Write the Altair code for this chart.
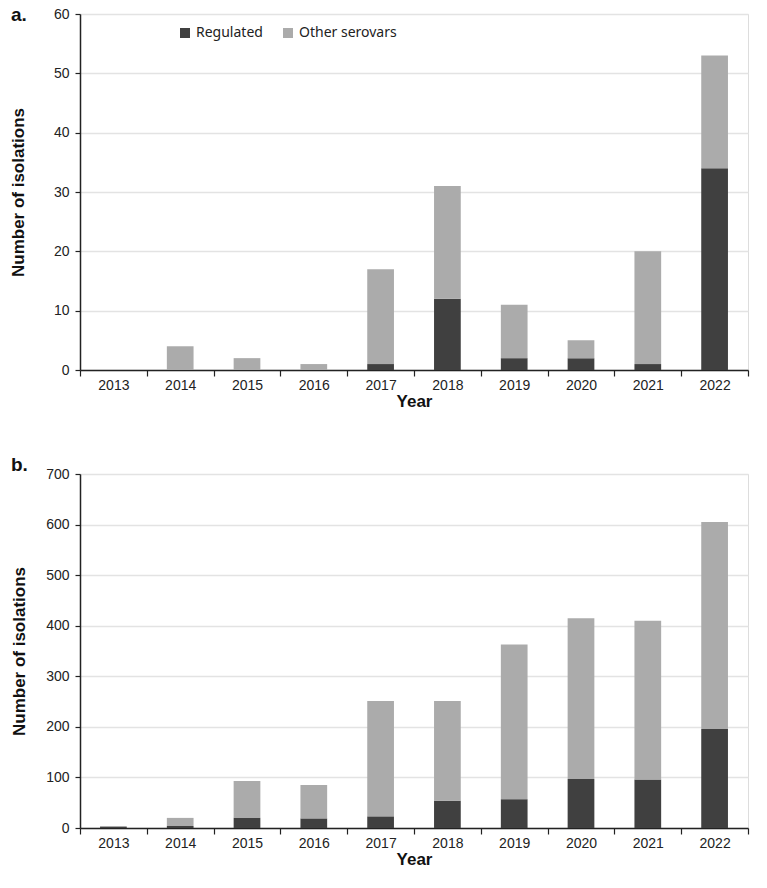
import altair as alt
import pandas as pd

years = ["2013", "2014", "2015", "2016", "2017", "2018", "2019", "2020", "2021", "2022"]
series = ["Regulated", "Other serovars"]

a_regulated = [0, 0, 0, 0, 1, 12, 2, 2, 1, 34]
a_other = [0, 4, 2, 1, 16, 19, 9, 3, 19, 19]

b_regulated = [2, 4, 20, 19, 23, 54, 57, 97, 96, 196]
b_other = [2, 16, 73, 66, 228, 197, 306, 318, 314, 409]

a_ticks = [0, 10, 20, 30, 40, 50, 60]
b_ticks = [0, 100, 200, 300, 400, 500, 600, 700]

W = 668
AXIS_FONT = "Liberation Sans"
LEG_FONT = "Noto Sans"


def make_df(reg, other):
    rows = []
    for i, y in enumerate(years):
        rows.append({"Year": y, "Series": series[0], "Count": reg[i], "ord": 0})
        rows.append({"Year": y, "Series": series[1], "Count": other[i], "ord": 1})
    return pd.DataFrame(rows)


def panel(reg, other, ticks, height, letter, legend_y, letter_y, ytitle_pad):
    df = make_df(reg, other)
    bars = alt.Chart(df).mark_bar(width=alt.RelativeBandSize(0.4)).encode(
        x=alt.X(
            "Year:N",
            sort=years,
            scale=alt.Scale(paddingInner=0, paddingOuter=0),
            axis=alt.Axis(
                title="Year",
                tickBand="extent",
                labelAngle=0,
                labelFont=AXIS_FONT,
                labelFontSize=14,
                labelColor="#222222",
                labelPadding=2,
                titleFont=AXIS_FONT,
                titleFontSize=17,
                titleFontWeight="bold",
                titleColor="#111111",
                titlePadding=1,
                domainColor="#222222",
                domainWidth=1.5,
                tickColor="#222222",
                tickSize=6,
                tickWidth=1.2,
                grid=False,
            ),
        ),
        y=alt.Y(
            "Count:Q",
            stack="zero",
            scale=alt.Scale(domain=[ticks[0], ticks[-1]], nice=False),
            axis=alt.Axis(
                title="Number of isolations",
                values=ticks,
                labelFont=AXIS_FONT,
                labelFontSize=14,
                labelColor="#222222",
                labelPadding=6,
                titleFont=AXIS_FONT,
                titleFontSize=17,
                titleFontWeight="bold",
                titleColor="#111111",
                titlePadding=ytitle_pad,
                domainColor="#222222",
                domainWidth=1.5,
                tickColor="#222222",
                tickSize=5,
                tickWidth=1.2,
                grid=True,
                gridColor="#e3e3e3",
                gridWidth=1.5,
            ),
        ),
        color=alt.Color(
            "Series:N",
            sort=series,
            scale=alt.Scale(domain=series, range=["#404040", "#ababab"]),
            legend=alt.Legend(
                title=None,
                orient="none",
                legendX=98,
                legendY=legend_y,
                direction="horizontal",
                symbolType="square",
                symbolSize=100,
                symbolStrokeWidth=0,
                labelFont=LEG_FONT,
                labelFontSize=14,
                labelColor="#222222",
                columnPadding=18,
                labelOffset=4,
                padding=0,
            ),
        ),
        order=alt.Order("ord:Q"),
    )
    lab = alt.Chart(pd.DataFrame({"t": [letter]})).mark_text(
        font=AXIS_FONT, fontSize=19, fontWeight="bold", align="left", baseline="middle", color="#111111"
    ).encode(text="t:N", x=alt.value(-69), y=alt.value(letter_y))
    return alt.layer(bars, lab).properties(width=W, height=height)


pa = panel(a_regulated, a_other, a_ticks, 356, "a.", 12, 1, 26)
pb = panel(b_regulated, b_other, b_ticks, 354, "b.", 16, -9, 17)

chart = alt.vconcat(pa, pb, spacing=45).properties(
    padding={"left": 8, "top": 5, "right": 5, "bottom": 5}
).configure_view(stroke=None).configure(background="white")

chart.save("out.html", embed_options={"renderer": "svg", "actions": False})
